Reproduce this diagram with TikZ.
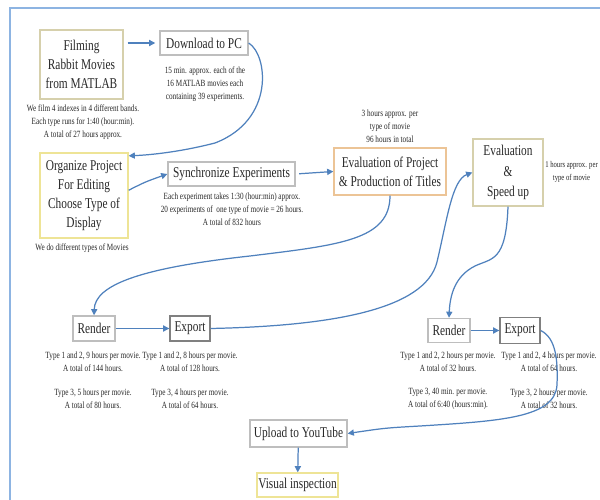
\documentclass[tikz,border=0pt]{standalone}
\usepackage{fontspec}
\setmainfont{Liberation Serif}[FakeStretch=0.76]
\usetikzlibrary{arrows.meta}
\definecolor{lineblue}{RGB}{79,129,189}
\definecolor{frameblue}{RGB}{141,180,226}
\definecolor{boxgray}{RGB}{190,190,190}
\definecolor{boxdark}{RGB}{128,128,128}
\definecolor{boxkhaki}{RGB}{214,208,172}
\definecolor{boxyellow}{RGB}{238,228,150}
\definecolor{boxorange}{RGB}{236,196,150}
\definecolor{inkgray}{RGB}{40,40,40}

\begin{document}
\begin{tikzpicture}[x=0.02cm,y=-0.02cm,
  box/.style={draw=boxgray,line width=0.8pt,fill=white,inner sep=0pt,align=center,text=inkgray,font=\fontsize{8.5}{10.8}\selectfont},
  note/.style={inner sep=0pt,align=center,text=inkgray,font=\fontsize{5.4}{7.4}\selectfont},
  flow/.style={draw=lineblue,line width=0.7pt,-{Triangle[length=3.5pt,width=3.5pt]}}]
\useasboundingbox (0,0) rectangle (600,500);
\fill[white] (0,0) rectangle (600,500);
\draw[frameblue,line width=1.2pt] (10,500) -- (10,8) -- (600,8);

\draw (81.5,64.5) node[box,draw=boxkhaki,minimum width=1.66cm,minimum height=1.38cm](filming) {Filming\\Rabbit Movies\\from MATLAB};
\draw (204,43) node[box,minimum width=1.76cm,minimum height=0.48cm](download) {Download to PC};
\draw (84,195.5) node[box,draw=boxyellow,minimum width=1.76cm,minimum height=1.7cm](organize) {Organize Project\\For Editing\\Choose Type of\\Display};
\draw (231.5,174) node[box,minimum width=2.54cm,minimum height=0.48cm](sync) {Synchronize Experiments};
\draw (390,171.5) node[box,draw=boxorange,minimum width=2.24cm,minimum height=0.94cm](evalproj) {Evaluation of Project\\\& Production of Titles};
\draw (508,172.5) node[box,draw=boxkhaki,minimum width=1.4cm,minimum height=1.34cm](evalspeed) {Evaluation\\[1pt]\&\\[1pt]Speed up};
\draw (94,328.5) node[box,minimum width=0.84cm,minimum height=0.5cm](renderA) {Render};
\draw (190,328.5) node[box,draw=boxdark,minimum width=0.8cm,minimum height=0.5cm](exportA) {Export};
\draw (449,330.5) node[box,minimum width=0.84cm,minimum height=0.48cm](renderB) {Render};
\draw (520,330.5) node[box,draw=boxdark,minimum width=0.8cm,minimum height=0.52cm](exportB) {Export};
\draw (298.5,433.5) node[box,minimum width=1.94cm,minimum height=0.54cm](upload) {Upload to YouTube};
\draw (297.5,485) node[box,draw=boxyellow,minimum width=1.62cm,minimum height=0.48cm](visual) {Visual inspection};

\draw (83,122) node[note](filmnote) {We film 4 indexes in 4 different bands.\\Each type runs for 1:40 (hour:min).\\A total of 27 hours approx.};
\draw (205,84) node[note](downnote) {15 min. approx. each of the\\16 MATLAB movies each\\containing 39 experiments.};
\draw (82,248) node[note](orgnote) {We do different types of Movies};
\draw (232,209) node[note](syncnote) {Each experiment takes 1:30 (hour:min) approx.\\20 experiments of\ \ one type of movie = 26 hours.\\A total of 832 hours};
\draw (390,126) node[note](projnote) {3 hours approx. per\\type of movie\\96 hours in total};
\draw (571.5,172) node[note,font=\fontsize{5}{7.4}\selectfont](speednote) {1 hours approx. per\\type of movie};
\draw (93,380.5) node[note](renderAnote) {Type 1 and 2, 9 hours per movie.\\A total of 144 hours.\\[6pt]Type 3, 5 hours per movie.\\A total of 80 hours.};
\draw (190,380.5) node[note](exportAnote) {Type 1 and 2, 8 hours per movie.\\A total of 128 hours.\\[6pt]Type 3, 4 hours per movie.\\A total of 64 hours.};
\draw (448,380.5) node[note](renderBnote) {Type 1 and 2, 2 hours per movie.\\A total of 32 hours.\\[6pt]Type 3, 40 min. per movie.\\A total of 6:40 (hours:min).};
\draw (549,380.5) node[note](exportBnote) {Type 1 and 2, 4 hours per movie.\\A total of 64 hours.\\[6pt]Type 3, 2 hours per movie.\\A total of 32 hours.};

\draw[flow,shorten <=2.3pt,shorten >=2.3pt] (filming.east |- download.west) -- (download.west);
\draw[flow] (download.east) .. controls (268,55) and (275,120) .. (215,143) .. controls (180,152) and (150,155) .. ([yshift=-2pt]organize.north east);
\draw[flow] ([yshift=3pt]organize.east) .. controls (145,182) .. (sync.west);
\draw[flow,shorten <=2pt] (sync.east) -- (evalproj.west);
\draw[flow] (evalproj.south) .. controls (390,240) and (340,245) .. (250,256) .. controls (140,268) and (95,285) .. (renderA.north);
\draw[flow] (renderA) -- (exportA);
\draw[flow] (exportA.east) .. controls (330,326) and (425,310) .. (437,262) .. controls (447,220) and (452,180) .. (evalspeed.west);
\draw[flow] (evalspeed.south) .. controls (506,262) and (492,258) .. (475,266) .. controls (455,276) and (450,295) .. (renderB.north);
\draw[flow] (renderB) -- (exportB);
\draw[flow] (exportB.east) .. controls (556,338) and (558,360) .. (557,385) .. controls (555,418) and (500,421) .. (420,426) .. controls (385,428) .. (upload.east);
\draw[flow] (upload) -- (visual);
\end{tikzpicture}
\end{document}
